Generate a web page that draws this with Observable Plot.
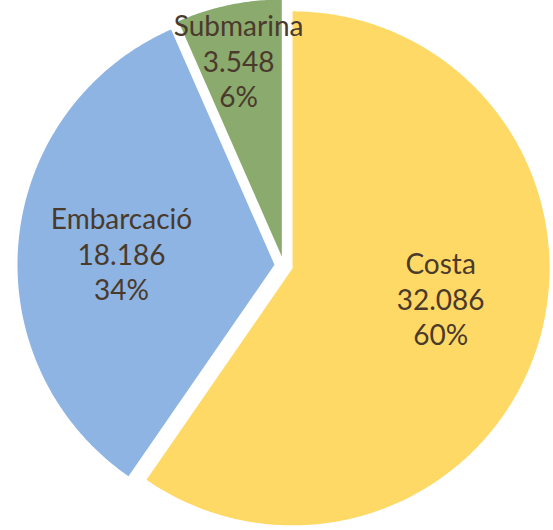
<!DOCTYPE html>
<html>
<head>
<meta charset="utf-8">
<script src="https://cdn.jsdelivr.net/npm/d3@7"></script>
<script src="https://cdn.jsdelivr.net/npm/@observablehq/plot@0.6"></script>
<style>
  html, body { margin: 0; padding: 0; background: #fff; }
  #chart { width: 553px; height: 530px; }
</style>
</head>
<body>
<div id="chart"></div>
<script>
// Data
const categories = ["Costa", "Embarcació", "Submarina"];
const values = [32086, 18186, 3548];
const valueLabels = ["32.086", "18.186", "3.548"];
const percentLabels = ["60%", "34%", "6%"];
const colors = ["#FFD966", "#8DB4E2", "#8AAA6E"];

// Layout (unit radius = 1)
const explode = 0.036;
const labelLayout = [
  {r: 0.588, shift: -5.8},
  {r: 0.597, shift: -1.2},
  {r: 0.781, shift: -0.55}
];

const pie = d3.pie().sort(null).startAngle(0).endAngle(2 * Math.PI);
const arcs = pie(values);

const slices = [];
const labels = [];
arcs.forEach((a, i) => {
  const mid = (a.startAngle + a.endAngle) / 2;
  const ox = explode * Math.sin(mid), oy = explode * Math.cos(mid);
  const pts = [{x: ox, y: oy}];
  const n = Math.max(8, Math.ceil((a.endAngle - a.startAngle) / 0.01));
  for (let k = 0; k <= n; k++) {
    const t = a.startAngle + (a.endAngle - a.startAngle) * k / n;
    pts.push({x: ox + Math.sin(t), y: oy + Math.cos(t)});
  }
  pts.push({x: ox, y: oy});
  slices.push({pts, fill: colors[i]});
  const la = mid + labelLayout[i].shift * Math.PI / 180;
  labels.push({
    x: ox + labelLayout[i].r * Math.sin(la),
    y: oy + labelLayout[i].r * Math.cos(la),
    text: categories[i] + "\n" + valueLabels[i] + "\n" + percentLabels[i]
  });
});

const plot = Plot.plot({
  width: 553,
  height: 530,
  margin: 0,
  x: {domain: [-1.102, 1.0498], axis: null},
  y: {domain: [-1.0307, 1.0315], axis: null},
  style: {background: "#fff", fontFamily: "Lato, sans-serif"},
  marks: [
    ...slices.map(s => Plot.line(s.pts, {x: "x", y: "y", fill: s.fill, stroke: "none", curve: "linear"})),
    Plot.text(labels, {
      x: "x", y: "y", text: "text",
      fontSize: 28, fill: "#4A3A2C", lineHeight: 1.27,
      textAnchor: "middle", frameAnchor: "middle"
    })
  ]
});
document.getElementById("chart").appendChild(plot);
</script>
</body>
</html>
